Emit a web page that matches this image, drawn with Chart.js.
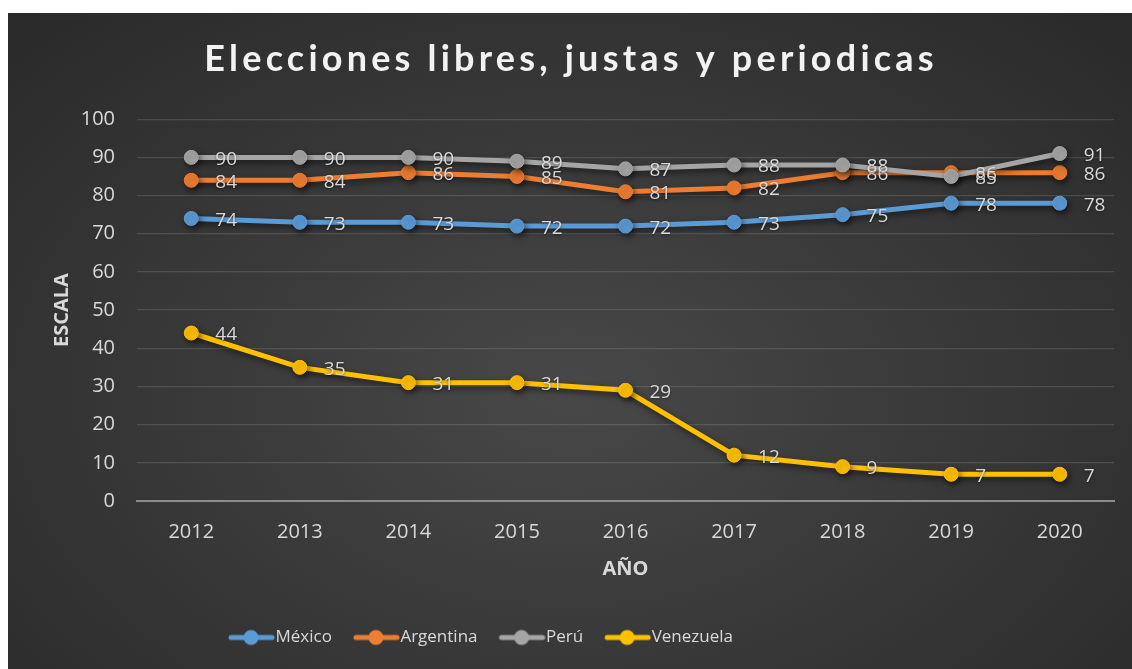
<!DOCTYPE html>
<html>
<head>
<meta charset="utf-8">
<title>Elecciones libres, justas y periodicas</title>
<script src="https://cdn.jsdelivr.net/npm/chart.js@4.4.0/dist/chart.umd.min.js"></script>
<style>
  html, body { margin: 0; padding: 0; background: #ffffff; }
  #wrap {
    position: absolute; left: 8px; top: 13px; width: 1124px; height: 656px;
    background: radial-gradient(ellipse 70% 80% at 50% 58%, #484848 0%, #3a3a3a 45%, #2a2a2a 100%);
  }
</style>
</head>
<body>
<div id="wrap"><canvas id="chart"></canvas></div>
<script>
// Datos
const titulo = 'Elecciones libres, justas y periodicas';
const anios = ['2012', '2013', '2014', '2015', '2016', '2017', '2018', '2019', '2020'];
const paises = ['México', 'Argentina', 'Perú', 'Venezuela'];
const mexico = [74, 73, 73, 72, 72, 73, 75, 78, 78];
const argentina = [84, 84, 86, 85, 81, 82, 86, 86, 86];
const peru = [90, 90, 90, 89, 87, 88, 88, 85, 91];
const venezuela = [44, 35, 31, 31, 29, 12, 9, 7, 7];
const colores = ['#5b9bd5', '#ed7d31', '#a5a5a5', '#ffc000'];

const series = [mexico, argentina, peru, venezuela];
const texto = '#d9d9d9';

// Marcador de leyenda: linea con circulo (la imagen se centra en la caja de 36px)
function marcador(color) {
    const c = document.createElement('canvas');
    c.width = 52;
    c.height = 18;
    const g = c.getContext('2d');
    g.strokeStyle = color;
    g.lineWidth = 5;
    g.lineCap = 'round';
    g.beginPath();
    g.moveTo(8, 9);
    g.lineTo(49, 9);
    g.stroke();
    g.fillStyle = color;
    g.beginPath();
    g.arc(28, 9, 7.5, 0, Math.PI * 2);
    g.fill();
    return c;
}
const marcadores = colores.map(marcador);

// Titulo con espaciado entre letras, como en Excel
const espaciado = {
    id: 'espaciado',
    beforeDraw(chart) {
        const tb = chart.titleBlock;
        if (!tb || tb._espaciado) return;
        const original = tb.draw.bind(tb);
        tb.draw = function () {
            const ctx = chart.ctx;
            ctx.save();
            ctx.letterSpacing = '4.2px';
            original();
            ctx.restore();
        };
        tb._espaciado = true;
    }
};

// Sombra bajo las lineas
const sombra = {
    id: 'sombra',
    beforeDatasetsDraw(chart) {
        const ctx = chart.ctx;
        ctx.save();
        ctx.shadowColor = 'rgba(0, 0, 0, 0.55)';
        ctx.shadowBlur = 6;
        ctx.shadowOffsetX = 2;
        ctx.shadowOffsetY = 3;
    },
    afterDatasetsDraw(chart) {
        chart.ctx.restore();
    }
};

// Etiquetas de valor a la derecha de cada punto
const etiquetas = {
    id: 'etiquetas',
    afterDatasetsDraw(chart) {
        const ctx = chart.ctx;
        ctx.save();
        ctx.font = '19px "Open Sans"';
        ctx.fillStyle = texto;
        ctx.textAlign = 'left';
        ctx.textBaseline = 'middle';
        ctx.shadowColor = 'rgba(0, 0, 0, 0.5)';
        ctx.shadowBlur = 3;
        ctx.shadowOffsetY = 1;
        chart.data.datasets.forEach((ds, i) => {
            chart.getDatasetMeta(i).data.forEach((pt, j) => {
                ctx.fillText(ds.data[j], pt.x + 24, pt.y + 2);
            });
        });
        ctx.restore();
    }
};

// La leyenda de Excel no esta centrada
const moverLeyenda = {
    id: 'moverLeyenda',
    afterLayout(chart) {
        const lg = chart.legend;
        const dx = 474 - (lg.left + lg.right) / 2;
        lg.left += dx;
        lg.right += dx;
    }
};

new Chart(document.getElementById('chart'), {
    type: 'line',
    data: {
        labels: anios,
        datasets: series.map((valores, i) => ({
            label: paises[i],
            data: valores,
            borderColor: colores[i],
            backgroundColor: colores[i],
            pointBackgroundColor: colores[i],
            pointBorderColor: colores[i],
            borderWidth: 5,
            pointRadius: 7,
            pointBorderWidth: 1,
            tension: 0,
            order: 4 - i
        }))
    },
    options: {
        responsive: true,
        maintainAspectRatio: false,
        animation: false,
        layout: {
            padding: { left: 20, right: 18, top: 0, bottom: 13 }
        },
        scales: {
            x: {
                offset: true,
                grid: { display: false, drawTicks: false },
                border: { display: true, color: '#8c8c8c', width: 2 },
                ticks: {
                    color: texto,
                    font: { family: 'Open Sans', size: 20 },
                    padding: 19
                },
                title: {
                    display: true,
                    text: 'AÑO',
                    color: texto,
                    font: { family: 'Open Sans', size: 20, weight: 'bold' },
                    padding: { top: 0, bottom: 24 }
                },
                afterFit(scale) { scale.height = 104; }
            },
            y: {
                min: 0,
                max: 100,
                ticks: {
                    stepSize: 10,
                    color: texto,
                    font: { family: 'Open Sans', size: 20 },
                    padding: 22
                },
                grid: {
                    color: (ctx) => ctx.tick && ctx.tick.value === 0 ? 'rgba(0,0,0,0)' : 'rgba(255, 255, 255, 0.13)',
                    lineWidth: 1.3,
                    drawTicks: false
                },
                border: { display: false },
                title: {
                    display: true,
                    text: 'ESCALA',
                    color: texto,
                    font: { family: 'Open Sans', size: 20, weight: 'bold' },
                    padding: { top: 22, bottom: 0 }
                },
                afterFit(scale) { scale.width = 109; }
            }
        },
        plugins: {
            title: {
                display: true,
                text: titulo,
                color: '#f2f2f2',
                font: { family: 'Lato', size: 36, weight: 'bold' },
                padding: { top: 25, bottom: 38 }
            },
            legend: {
                position: 'bottom',
                labels: {
                    usePointStyle: true,
                    pointStyleWidth: 36,
                    padding: 24,
                    color: texto,
                    font: { family: 'Open Sans', size: 17 },
                    generateLabels(chart) {
                        return Chart.defaults.plugins.legend.labels.generateLabels(chart)
                            .map((l) => ({ ...l, pointStyle: marcadores[l.datasetIndex] }))
                            .sort((a, b) => a.datasetIndex - b.datasetIndex);
                    }
                }
            },
            tooltip: { enabled: false }
        }
    },
    plugins: [espaciado, sombra, etiquetas, moverLeyenda]
});
</script>
</body>
</html>
